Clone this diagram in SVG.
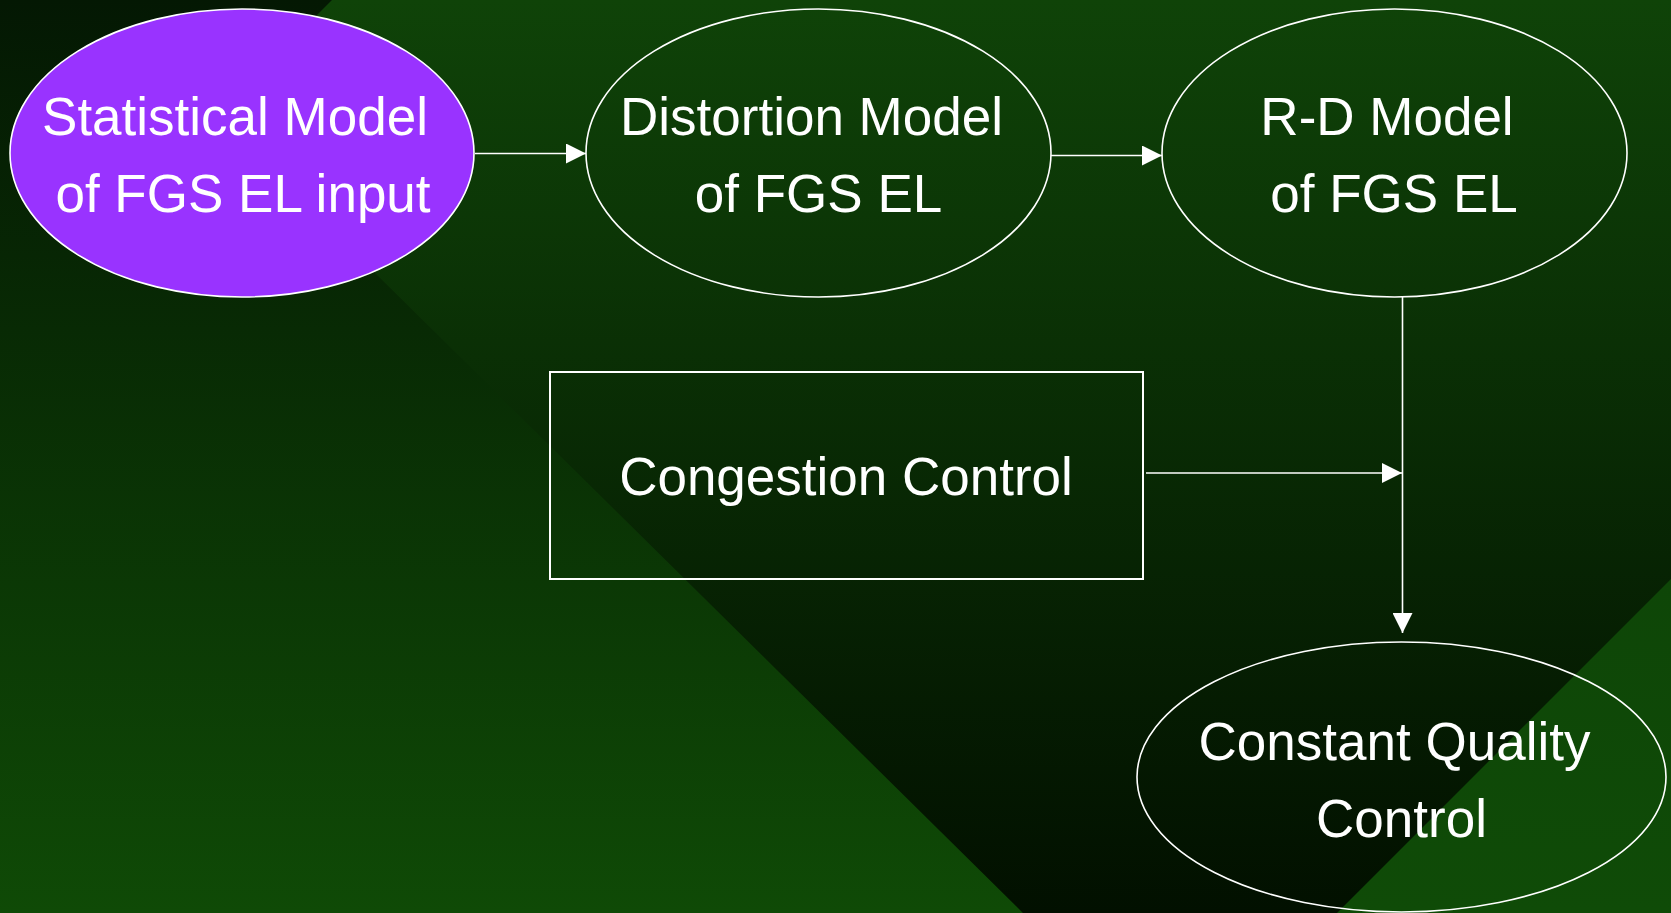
<svg xmlns="http://www.w3.org/2000/svg" width="1671" height="913" viewBox="0 0 1671 913">
  <defs>
    <linearGradient id="gCentral" x1="0" y1="0" x2="0" y2="913" gradientUnits="userSpaceOnUse">
      <stop offset="0" stop-color="#0f4308"/>
      <stop offset="1" stop-color="#021000"/>
    </linearGradient>
    <linearGradient id="gLeft" x1="0" y1="0" x2="0" y2="913" gradientUnits="userSpaceOnUse">
      <stop offset="0" stop-color="#041803"/>
      <stop offset="1" stop-color="#0f4a06"/>
    </linearGradient>
    <linearGradient id="gRight" x1="0" y1="579" x2="0" y2="913" gradientUnits="userSpaceOnUse">
      <stop offset="0" stop-color="#0e4607"/>
      <stop offset="1" stop-color="#0f4b07"/>
    </linearGradient>
    <marker id="arrow" markerUnits="userSpaceOnUse" markerWidth="20" markerHeight="20" refX="20" refY="10" orient="auto">
      <path d="M0,0 L20,10 L0,20 Z" fill="#ffffff"/>
    </marker>
    <style>
      .node { stroke: #ffffff; stroke-width: 1.6; fill: none; }
      .purple { fill: #9933ff; }
      .box { stroke: #ffffff; stroke-width: 2; fill: none; }
      .label { font-family: "Liberation Sans", Arial, sans-serif; font-size: 53px; fill: #ffffff; text-anchor: middle; }
      .conn { stroke: #ffffff; stroke-width: 1.6; fill: none; marker-end: url(#arrow); }
    </style>
  </defs>

  <g id="background">
    <rect x="0" y="0" width="1671" height="913" fill="url(#gCentral)"/>
    <polygon points="0,0 332,0 216,116 1023,913 0,913" fill="url(#gLeft)"/>
    <polygon points="1671,579 1671,913 1337,913" fill="url(#gRight)"/>
  </g>

  <g id="connectors">
    <line class="conn" x1="475" y1="153.5" x2="586" y2="153.5"/>
    <line class="conn" x1="1051" y1="155.5" x2="1162" y2="155.5"/>
    <line class="conn" x1="1402.5" y1="297" x2="1402.5" y2="633"/>
    <line class="conn" x1="1146" y1="473" x2="1402" y2="473"/>
  </g>

  <g id="node-statistical">
    <ellipse class="node purple" cx="242" cy="153" rx="232" ry="144"/>
    <text class="label" x="235" y="135">Statistical Model</text>
    <text class="label" x="243" y="212">of FGS EL input</text>
  </g>

  <g id="node-distortion">
    <ellipse class="node" cx="818.5" cy="153" rx="232.5" ry="144"/>
    <text class="label" x="811.5" y="135">Distortion Model</text>
    <text class="label" x="818.5" y="212">of FGS EL</text>
  </g>

  <g id="node-rd">
    <ellipse class="node" cx="1394.5" cy="153" rx="232.5" ry="144"/>
    <text class="label" x="1387" y="135">R-D Model</text>
    <text class="label" x="1394" y="212">of FGS EL</text>
  </g>

  <g id="node-congestion">
    <rect class="box" x="550" y="372" width="593" height="207"/>
    <text class="label" x="846" y="495">Congestion Control</text>
  </g>

  <g id="node-constant-quality">
    <ellipse class="node" cx="1401.5" cy="777" rx="264.5" ry="135"/>
    <text class="label" x="1394.5" y="760">Constant Quality</text>
    <text class="label" x="1401.5" y="837">Control</text>
  </g>
</svg>
